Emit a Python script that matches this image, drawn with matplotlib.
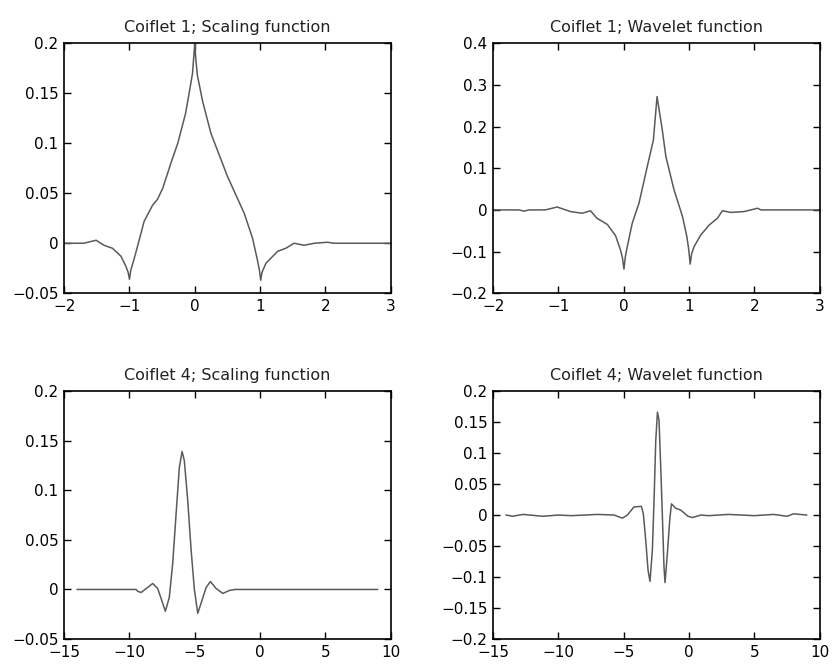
import numpy as np
import matplotlib
matplotlib.use("Agg")
import matplotlib.pyplot as plt
from matplotlib.ticker import FuncFormatter

# Coiflet 1, scaling function
c1_phi_x = [-2.0, -1.70, -1.51, -1.39, -1.26, -1.13, -1.055, -1.02, -1.0, -0.98,
            -0.93, -0.876, -0.775, -0.646, -0.57, -0.49, -0.366, -0.26, -0.14,
            -0.06, -0.034, -0.009, 0.0, 0.015, 0.04, 0.12, 0.247, 0.50, 0.757,
            0.885, 0.96, 0.99, 1.01, 1.03, 1.09, 1.27, 1.395, 1.52, 1.675, 1.83,
            2.03, 2.13, 3.0]
c1_phi_y = [0.0, 0.0, 0.003, -0.002, -0.005, -0.013, -0.023, -0.029, -0.036, -0.027,
            -0.016, -0.003, 0.022, 0.038, 0.044, 0.055, 0.08, 0.1, 0.13,
            0.16, 0.17, 0.192, 0.2, 0.185, 0.168, 0.142, 0.11, 0.067, 0.03,
            0.005, -0.017, -0.027, -0.037, -0.029, -0.02, -0.008, -0.005, 0.0, -0.002, 0.0,
            0.001, 0.0, 0.0]

# Coiflet 1, wavelet function
c1_psi_x = [-2.0, -1.6, -1.53, -1.45, -1.2, -1.02, -0.815, -0.635, -0.51, -0.41,
            -0.25, -0.125, -0.05, -0.02, 0.003, 0.025, 0.054, 0.13, 0.233, 0.36,
            0.454, 0.51, 0.59, 0.645, 0.77, 0.9, 0.966, 0.995, 1.017, 1.04,
            1.077, 1.18, 1.31, 1.435, 1.51, 1.64, 1.84, 2.05, 2.1, 3.0]
c1_psi_y = [0.0, 0.0, -0.003, 0.0, 0.0, 0.007, -0.004, -0.008, -0.002, -0.02,
            -0.035, -0.062, -0.096, -0.115, -0.142, -0.112, -0.088, -0.032, 0.016, 0.104,
            0.168, 0.272, 0.192, 0.128, 0.048, -0.016, -0.064, -0.095, -0.13, -0.105,
            -0.088, -0.06, -0.036, -0.02, -0.002, -0.006, -0.004, 0.004, 0.0, 0.0]

# Coiflet 4, scaling function
c4_phi_x = [-14.0, -9.5, -9.35, -9.1, -8.22, -7.84, -7.58, -7.25, -6.95, -6.69,
            -6.43, -6.18, -5.97, -5.8, -5.54, -5.28, -5.03, -4.77, -4.52, -4.13,
            -3.8, -3.37, -2.85, -2.35, -1.9, 9.0]
c4_phi_y = [0.0, 0.0, -0.002, -0.003, 0.006, 0.001, -0.009, -0.022, -0.008, 0.026,
            0.076, 0.123, 0.139, 0.13, 0.09, 0.04, 0.0, -0.024, -0.014, 0.002,
            0.008, 0.001, -0.004, -0.001, 0.0, 0.0]

# Coiflet 4, wavelet function
c4_psi_x = [-14.0, -13.5, -13.0, -12.7, -11.2, -10.0, -9.0, -7.0, -5.75, -5.1,
            -4.72, -4.22, -3.65, -3.5, -3.32, -3.14, -2.99, -2.81, -2.68, -2.55,
            -2.42, -2.3, -2.17, -2.04, -1.92, -1.84, -1.66, -1.48, -1.35, -1.02,
            -0.64, -0.08, 0.26, 0.9, 1.5, 3.0, 5.0, 6.5, 7.5, 8.0, 9.0]
c4_psi_y = [0.0, -0.002, 0.0, 0.001, -0.002, 0.0, -0.001, 0.001, 0.0, -0.005,
            0.0, 0.013, 0.014, 0.002, -0.04, -0.089, -0.107, -0.057, 0.024, 0.12,
            0.166, 0.153, 0.078, -0.003, -0.083, -0.109, -0.062, -0.008, 0.018, 0.011,
            0.008, -0.002, -0.004, 0.0, -0.001, 0.001, -0.001, 0.001, -0.002, 0.002, 0.0]

titles = ["Coiflet 1; Scaling function", "Coiflet 1; Wavelet function",
          "Coiflet 4; Scaling function", "Coiflet 4; Wavelet function"]
xs = [c1_phi_x, c1_psi_x, c4_phi_x, c4_psi_x]
ys = [c1_phi_y, c1_psi_y, c4_phi_y, c4_psi_y]
xlims = [(-2, 3), (-2, 3), (-15, 10), (-15, 10)]
ylims = [(-0.05, 0.2), (-0.2, 0.4), (-0.05, 0.2), (-0.2, 0.2)]
yticks = [np.arange(-0.05, 0.21, 0.05), np.arange(-0.2, 0.41, 0.1),
          np.arange(-0.05, 0.21, 0.05), np.arange(-0.2, 0.21, 0.05)]
xticks = [np.arange(-2, 4, 1), np.arange(-2, 4, 1),
          np.arange(-15, 11, 5), np.arange(-15, 11, 5)]

plt.rcParams["font.family"] = "DejaVu Sans"
plt.rcParams["font.size"] = 11

fig = plt.figure(figsize=(8.33, 6.65), dpi=100)
pos = [[0.077, 0.559, 0.392, 0.376], [0.592, 0.559, 0.392, 0.376],
       [0.077, 0.039, 0.392, 0.373], [0.592, 0.039, 0.392, 0.373]]


def fmt(v, p):
    s = "%g" % round(v, 4)
    if s == "-0":
        s = "0"
    return s.replace("-", "\u2212")


for i in range(4):
    ax = fig.add_axes(pos[i])
    ax.plot(xs[i], ys[i], color="#5a5a5a", lw=1.1)
    ax.set_xlim(xlims[i])
    ax.set_ylim(ylims[i])
    ax.set_xticks(xticks[i])
    ax.set_yticks(yticks[i])
    ax.yaxis.set_major_formatter(FuncFormatter(fmt))
    ax.xaxis.set_major_formatter(FuncFormatter(fmt))
    ax.tick_params(direction="in", top=True, right=True, length=5, width=1,
                   labelsize=11, pad=4, colors="black")
    for s in ax.spines.values():
        s.set_linewidth(1.2)
    ax.set_title(titles[i], fontsize=11.5, pad=8, color="#222222")

fig.savefig("out.png", dpi=100, facecolor="white")
